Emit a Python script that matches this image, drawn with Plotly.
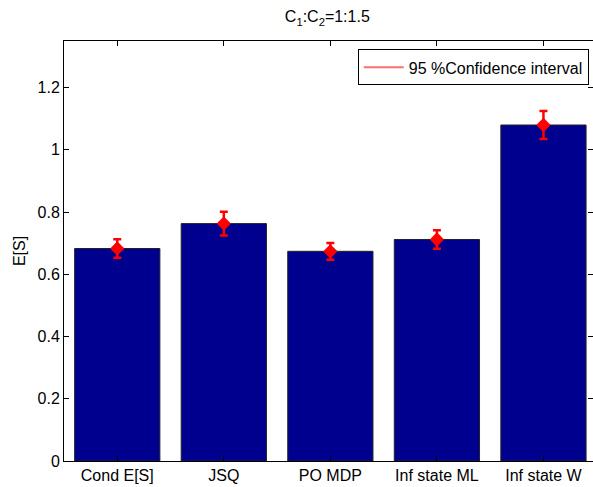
import plotly.graph_objects as go

# Mean sojourn time per policy, with 95% confidence half-widths
categories = ["Cond E[S]", "JSQ", "PO MDP", "Inf state ML", "Inf state W"]
mean_es = [0.683, 0.763, 0.674, 0.712, 1.080]
ci_half = [0.030, 0.038, 0.027, 0.030, 0.045]
y_ticks = [0, 0.2, 0.4, 0.6, 0.8, 1.0, 1.2]
y_tick_text = ["0", "0.2", "0.4", "0.6", "0.8", "1", "1.2"]

xpos = list(range(1, len(categories) + 1))
font_family = "Liberation Sans, Arial, sans-serif"
fs = 16

fig = go.Figure()

fig.add_trace(go.Bar(
    x=xpos, y=mean_es, width=0.8,
    marker=dict(color="#00008F", line=dict(color="#222222", width=1)),
    showlegend=False, hoverinfo="skip",
))

fig.add_trace(go.Scatter(
    x=xpos, y=mean_es, mode="markers",
    marker=dict(symbol="diamond", size=11, color="#FF0000"),
    error_y=dict(type="data", array=ci_half, visible=True,
                 color="#FF0000", thickness=2.5, width=4),
    showlegend=False,
))

# legend entry: plain line
fig.add_trace(go.Scatter(
    x=[None], y=[None], mode="lines",
    line=dict(color="#FF6E6E", width=2),
    name="95 %Confidence interval",
))

fig.update_layout(
    width=593, height=487,
    margin=dict(l=64, r=0, t=41, b=26),
    paper_bgcolor="white", plot_bgcolor="white",
    font=dict(family=font_family, size=fs, color="black"),
    title=dict(text="C<sub>1</sub>:C<sub>2</sub>=1:1.5", x=0.552, xanchor="center",
               y=0.966, yanchor="middle", font=dict(size=fs, family=font_family)),
    legend=dict(x=0.992, y=0.98, xanchor="right", yanchor="top",
                bordercolor="black", borderwidth=1, bgcolor="white",
                font=dict(size=fs), itemwidth=40,
                tracegroupgap=0),
    bargap=0.2,
)

fig.update_xaxes(
    range=[0.5, 5.465], tickvals=xpos, ticktext=categories,
    showline=True, linecolor="black", linewidth=1, mirror="allticks",
    ticks="inside", ticklen=5, tickcolor="black", showgrid=False, zeroline=False,
    tickfont=dict(size=fs),
)
fig.update_yaxes(
    range=[0, 1.35], tickvals=y_ticks, ticktext=y_tick_text,
    showline=True, linecolor="black", linewidth=1, mirror="allticks",
    ticks="inside", ticklen=5, tickcolor="black", showgrid=False, zeroline=False,
    tickfont=dict(size=fs),
    title=dict(text="E[S]", standoff=7, font=dict(size=fs)),
)

fig.write_html("out.html")
